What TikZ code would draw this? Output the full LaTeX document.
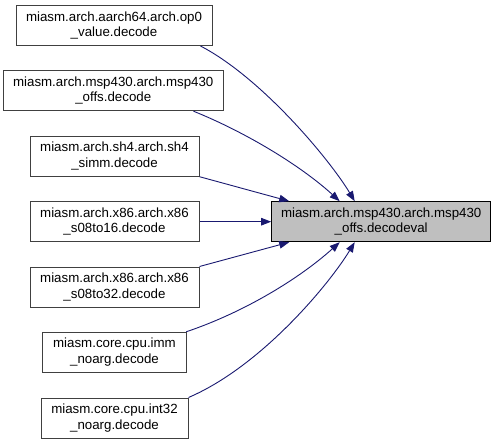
\documentclass[tikz,border=0pt]{standalone}
\usepackage{fontspec}
\setmainfont{Liberation Sans}
\usetikzlibrary{arrows.meta}
\definecolor{edgeblue}{HTML}{191970}
\definecolor{nodeborder}{HTML}{404040}
\definecolor{targetfill}{HTML}{BFBFBF}
\begin{document}
\begin{tikzpicture}[x=1pt,y=-1pt,
  box/.style={draw=nodeborder,line width=1pt,fill=white,inner sep=0pt,align=center,
    font=\fontsize{13.3}{15.5}\selectfont,minimum height=40pt},
  tbox/.style={box,draw=black,fill=targetfill},
  edge/.style={draw=edgeblue,line width=0.9pt,-{Triangle[length=10pt,width=7.5pt]}}]
\useasboundingbox (0,0) rectangle (496,444);
\node[box,minimum width=196pt] (n1) at (114,25.5) {miasm.arch.aarch64.arch.op0\\\_value.decode};
\node[box,minimum width=219.5pt] (n2) at (113.25,90.7) {miasm.arch.msp430.arch.msp430\\\_offs.decode};
\node[box,minimum width=169pt] (n3) at (114.5,156.2) {miasm.arch.sh4.arch.sh4\\\_simm.decode};
\node[box,minimum width=169pt] (n4) at (114.5,221.7) {miasm.arch.x86.arch.x86\\\_s08to16.decode};
\node[box,minimum width=169pt] (n5) at (114.5,287) {miasm.arch.x86.arch.x86\\\_s08to32.decode};
\node[box,minimum width=144.4pt] (n6) at (114.5,352.3) {miasm.core.cpu.imm\\\_noarg.decode};
\node[box,minimum width=147pt] (n7) at (114.5,418) {miasm.core.cpu.int32\\\_noarg.decode};
\node[tbox,minimum width=219pt] (t) at (381.2,221.7) {miasm.arch.msp430.arch.msp430\\\_offs.decodeval};
\draw[edge] ([xshift=-12pt]n1.south east) .. controls (262,78) and (330,160) .. ([xshift=83.5pt]t.north west);
\draw[edge] ([xshift=-30pt]n2.south east) .. controls (245,132) and (300,165) .. ([xshift=68.5pt]t.north west);
\draw[edge] (n3.south east) -- ([xshift=18pt]t.north west);
\draw[edge] (n4.east) -- (t.west);
\draw[edge] (n5.north east) -- ([xshift=18pt]t.south west);
\draw[edge] ([xshift=-1pt]n6.north east) .. controls (245,312) and (300,278) .. ([xshift=68.5pt]t.south west);
\draw[edge] ([xshift=0pt]n7.north east) .. controls (262,366) and (330,283) .. ([xshift=83.5pt]t.south west);
\end{tikzpicture}
\end{document}
